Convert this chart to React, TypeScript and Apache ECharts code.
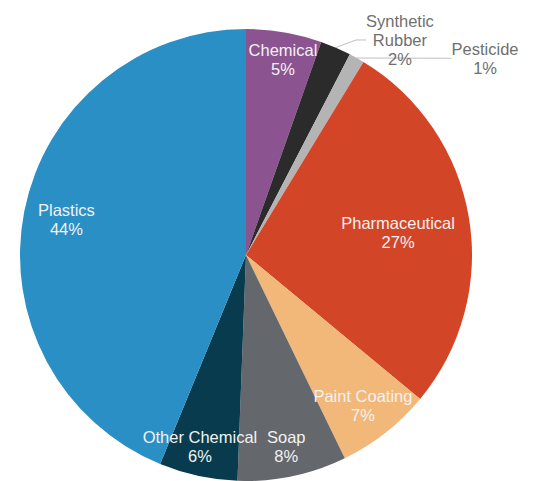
import React, { useEffect, useRef } from 'react';
import * as echarts from 'echarts';

const categories = ['Chemical', 'Synthetic Rubber', 'Pesticide', 'Pharmaceutical', 'Paint Coating', 'Soap', 'Other Chemical', 'Plastics'];
const values = [5.4, 2.2, 1.1, 27.3, 6.8, 7.8, 5.6, 43.8];
const labelNames = ['Chemical', 'Synthetic\nRubber', 'Pesticide', 'Pharmaceutical', 'Paint Coating', 'Soap', 'Other Chemical', 'Plastics'];
const colors = ['#8c5391', '#2b2b2b', '#b4b4b4', '#d24527', '#f2b87a', '#64676b', '#073b4d', '#2a8fc5'];
const outsideLabel = [false, true, true, false, false, false, false, false];
// label placement style (radius fraction, angular shift in degrees)
const labelRadius = [0.88, 1.17, 1.37, 0.68, 0.845, 0.865, 0.87, 0.81];
const labelAngleShift = [1, 12.2, 21.2, 1.3, 0.4, 0, 1.3, 0];

const CX = 246;
const CY = 255;
const R = 226;

export default function App() {
  const ref = useRef<HTMLDivElement>(null);
  useEffect(() => {
    if (!ref.current) return;
    const chart = echarts.init(ref.current, null, { renderer: 'svg' });
    const total = values.reduce((a, b) => a + b, 0);
    const data = categories.map((name, i) => ({
      name,
      value: values[i],
      itemStyle: { color: colors[i] },
      label: outsideLabel[i]
        ? { position: 'outside', color: '#6f6f6f' }
        : { position: 'inside', color: '#f2f2f2' },
      labelLine: outsideLabel[i]
        ? { show: true, length: 10, length2: 10, lineStyle: { color: '#bfbfbf', width: 1 } }
        : { show: false },
    }));
    chart.setOption({
      animation: false,
      series: [
        {
          type: 'pie',
          center: [CX, CY],
          radius: R,
          startAngle: 90,
          clockwise: true,
          avoidLabelOverlap: false,
          data,
          itemStyle: { borderWidth: 0 },
          emphasis: { disabled: true },
          label: {
            show: true,
            fontFamily: '"Liberation Sans", Arial, sans-serif',
            fontSize: 16.5,
            lineHeight: 19,
            align: 'center',
            formatter: (p: any) => labelNames[p.dataIndex] + '\n' + Math.round(p.percent) + '%',
          },
          labelLayout: (p: any) => {
            const i = p.dataIndex;
            let cum = 0;
            for (let j = 0; j < i; j++) cum += values[j];
            const mid = ((cum + values[i] / 2) / total) * 360 + labelAngleShift[i];
            const a = (mid * Math.PI) / 180;
            const r = R * labelRadius[i];
            return {
              x: CX + r * Math.sin(a),
              y: CY - r * Math.cos(a),
              align: 'center',
              verticalAlign: 'middle',
            };
          },
        },
      ],
    });
    return () => chart.dispose();
  }, []);
  return (
    <div
      ref={ref}
      style={{ position: 'fixed', left: 0, top: 0, width: 538, height: 481, background: '#fff' }}
    />
  );
}
